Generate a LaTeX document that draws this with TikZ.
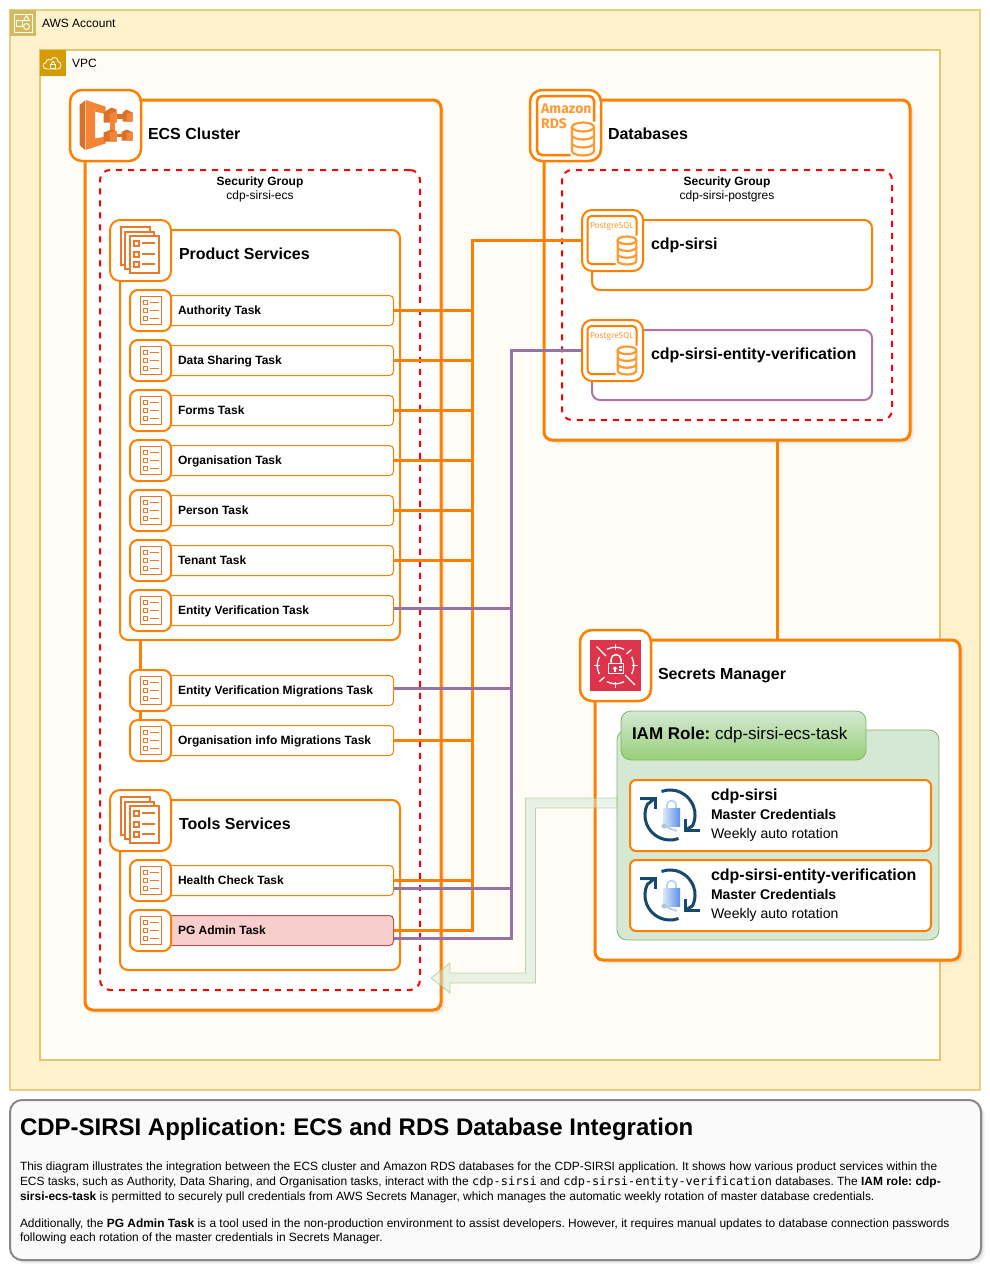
\documentclass[tikz,border=0pt]{standalone}
\usepackage{fontspec}
\setmainfont{Liberation Sans}
\newfontfamily\monof{DejaVu Sans Mono}
\newfontfamily\iconf{Fira Sans}
\usetikzlibrary{shadows}
\definecolor{orng}{HTML}{FF8000}
\definecolor{iconorg}{HTML}{E8782A}
\definecolor{icondark}{HTML}{DB7029}
\definecolor{iconlight}{HTML}{F58536}
\definecolor{dborg}{HTML}{FF9A33}
\definecolor{purp}{HTML}{9673A6}
\definecolor{rotblue}{HTML}{17496E}
\definecolor{smred}{HTML}{DD344C}
\definecolor{accgold}{HTML}{D4B95F}
\definecolor{vpcgold}{HTML}{D79B00}
\definecolor{accline}{HTML}{E8D080}
\definecolor{accfill}{HTML}{FFF2CC}
\definecolor{vpcline}{HTML}{E2C76E}
\definecolor{vpcfill}{HTML}{FFFCF5}
\definecolor{grnline}{HTML}{82B366}
\definecolor{grnfill}{HTML}{D5E8D4}
\definecolor{grnbot}{HTML}{97D077}
\definecolor{pgfillc}{HTML}{F8CECC}
\definecolor{pgline}{HTML}{B85450}
\definecolor{entline}{HTML}{B5739D}
\definecolor{panelline}{HTML}{888888}
\definecolor{panelfill}{HTML}{FAFAFA}
\definecolor{lockpale}{HTML}{DCE9FB}
\definecolor{locklight}{HTML}{B5D3F7}
\definecolor{lockdark}{HTML}{5B8FE6}
\definecolor{keygrey}{HTML}{A9BFD8}
\newcommand{\fsz}[1]{\fontsize{#1}{#1}\selectfont\frenchspacing}
\newcommand{\boxn}[6]{\node[#1,anchor=north west,inner sep=0pt,outer sep=0pt,minimum width={((#5)-(#3))*1pt},minimum height={((#6)-(#4))*1pt}] (#2) at ({#3},{#4}) {};}
\newcommand{\lbl}[5]{\node[anchor=base west,inner sep=0pt,outer sep=0pt,font=\fsz{#4}] (#1) at ({#2},{#3}) {#5};}
\newcommand{\clbl}[5]{\node[anchor=base,inner sep=0pt,outer sep=0pt,font=\fsz{#4}] (#1) at ({#2},{#3}) {#5};}
\newcommand{\taskrow}[4][taskbox]{%
  \boxn{#1}{t#2}{140}{#3-14.5}{393.5}{#3+15.5}
  \node[iconbox,minimum size=41pt] (i#2) at (150.5,{#3+.5}) {};
  \pic at (i#2.center) {listicon};
  \lbl{l#2}{178}{#3+4}{12}{\bfseries #4}
}
\tikzset{
  softshadow/.style={drop shadow={shadow xshift=1pt,shadow yshift=-1pt,opacity=.18},drop shadow={shadow xshift=2.5pt,shadow yshift=-2.5pt,opacity=.14},drop shadow={shadow xshift=4pt,shadow yshift=-4pt,opacity=.08}},
  groupbox/.style={draw=orng,line width=3pt,fill=white,rounded corners=8pt,softshadow},
  subgroup/.style={draw=orng,line width=2pt,fill=white,rounded corners=8pt},
  iconbox/.style={draw=orng,line width=2pt,fill=white,rounded corners=8pt,inner sep=0pt,outer sep=0pt},
  bigicon/.style={draw=orng,line width=2.5pt,fill=white,rounded corners=12pt,inner sep=0pt,outer sep=0pt},
  sgbox/.style={draw=red,line width=2pt,dash pattern=on 6pt off 6pt,rounded corners=10pt},
  taskbox/.style={draw=orng,line width=1pt,fill=white,rounded corners=4pt},
  pgtaskbox/.style={draw=pgline,line width=1pt,fill=pgfillc,rounded corners=4pt},
  credbox/.style={draw=orng,line width=2pt,fill=white,rounded corners=6pt},
  oconn/.style={draw=orng,line width=3pt},
  pconn/.style={draw=purp,line width=3pt},
  listicon/.pic={
    \draw[iconorg,line width=1pt] (-10.5,-14) rectangle (10.5,14);
    \foreach \yy in {-8,0,8}{
      \draw[iconorg,line width=1pt] (-7.5,\yy-2) rectangle (-3.5,\yy+2);
      \draw[iconorg,line width=1pt] (-1,\yy) -- (8,\yy);
    }
  },
  stackicon/.pic={
    \draw[iconorg,line width=2pt,fill=white] (-19.5,-23.5) rectangle (9.5,14.5);
    \draw[iconorg,line width=2pt,fill=white] (-15.5,-18.5) rectangle (13.5,18.5);
    \draw[iconorg,line width=2pt,fill=white] (-10.5,-14.5) rectangle (18.5,22.5);
    \foreach \yy in {-7.5,3.5,13.5}{
      \draw[iconorg,line width=2pt] (-7,\yy-2.5) rectangle (-2,\yy+2.5);
      \draw[iconorg,line width=2pt] (1,\yy) -- (14,\yy);
    }
  },
  dbcyl/.pic={
    \draw[dborg,line width=2.2pt,fill=white] (-11,-12) -- (-11,12) arc[start angle=180,end angle=360,x radius=11pt,y radius=4.5pt] -- (11,-12);
    \draw[dborg,line width=2.2pt,fill=white] (0,-12) ellipse[x radius=11pt,y radius=4.5pt];
    \draw[dborg,line width=2.2pt] (-11,-4) arc[start angle=180,end angle=360,x radius=11pt,y radius=4.5pt];
    \draw[dborg,line width=2.2pt] (-11,4) arc[start angle=180,end angle=360,x radius=11pt,y radius=4.5pt];
  },
  rdsicon/.pic={
    \draw[orng,line width=2.5pt,rounded corners=5pt] (28.5,-4) -- (28.5,-29.5) -- (-28.5,-29.5) -- (-28.5,29.5) -- (5,29.5);
    \pic at (17.5,13.5) {dbcyl};
    \node[anchor=base west,inner sep=0pt,font=\iconf\bfseries\fsz{14},text=dborg] (a) at (-24.5,-12) {Amazon};
    \node[anchor=base west,inner sep=0pt,font=\iconf\bfseries\fsz{14},text=dborg] (b) at (-24.5,3) {RDS};
  },
  pgicon/.pic={
    \draw[orng,line width=2pt,rounded corners=4pt] (24,-5) -- (24,-24.5) -- (-25,-24.5) -- (-25,23.5) -- (3,23.5);
    \pic[scale=.85] at (14.5,10) {dbcyl};
    \node[inner sep=0pt,font=\iconf\fsz{8.5},text=dborg] (a) at (-.8,-14.5) {PostgreSQL};
  },
  smicon/.pic={
    \fill[smred] (-25.5,-25.5) rectangle (25.5,25.5);
    \begin{scope}[white,line width=1.3pt]
      \foreach \aa in {0,90,180,270}{
        \draw ({18.3*cos(\aa-28)},{-18.3*sin(\aa-28)}) arc[start angle=\aa-28,end angle=\aa+28,radius=18.3pt];
      }
      \draw (-19,-19) -- (-9.5,-9.5);
      \draw (16,-16) -- (11,-11.5);
      \draw (-16,16) -- (-11,11.5);
      \draw (9.5,9.5) -- (19.5,19.5);
      \draw (0,-22) -- (0,-16);
      \draw (0,16) -- (0,22);
      \draw (-22,0) -- (-16,0);
      \draw (16,0) -- (22,0);
      \draw[line width=1.5pt] (-7,-2) rectangle (8,8);
      \draw[line width=1.5pt] (-4.5,-2) -- (-4.5,-6) arc[start angle=180,end angle=0,radius=5pt] -- (5.5,-2);
      \draw (-.5,3) circle[radius=1.3pt];
      \draw (-.5,4) -- (-.5,6.5);
      \draw (3.5,1.5) -- (6,1.5);
      \draw (3.5,4.5) -- (6,4.5);
    \end{scope}
  },
  roticon/.pic={
    \path[left color=lockpale,middle color=locklight,right color=lockdark] (-7,-7) rectangle (10,11.5);
    \draw[locklight,line width=1.7pt] (-3,-7) -- (-3,-10) arc[start angle=180,end angle=0,radius=4.5pt] -- (6,-7);
    \draw[keygrey,line width=1.5pt] (-6,11) circle[radius=1.8pt];
    \draw[keygrey,line width=2pt,dash pattern=on 1.5pt off .8pt] (-4,12) -- (7,16);
    \draw[rotblue,line width=3pt] (-8.5,-23.5) arc[start angle=110,end angle=-25,radius=25pt] -- (15,15.7);
    \draw[rotblue,line width=3pt] (15,4) -- (15,15.7) -- (30,15.7);
    \draw[rotblue,line width=3pt] (8.5,23.5) arc[start angle=290,end angle=155,radius=25pt] -- (-15,-16.7);
    \draw[rotblue,line width=3pt] (-30,-16.7) -- (-15,-16.7) -- (-15,-6);
  },
  ecsicon/.pic={
    \fill[icondark] (-26,-20.5) -- (-20.5,-25) -- (-20.5,24.5) -- (-26,19.5) -- cycle;
    \fill[iconlight] (-20,-25.5) -- (0,-19) -- (0,-13) -- (-2,-12) -- (-10.5,-14) -- (-10.5,13) -- (-2,11.5) -- (0,11) -- (0,18) -- (-20,24.5) -- cycle;
    % upper block
    \fill[icondark] (-2,-13) -- (6,-18) -- (11,-16) -- (11,-3) -- (-2,-3) -- cycle;
    \fill[iconlight] (4,-12) -- (11,-14) -- (11,-3) -- (4,-3) -- cycle;
    \fill[icondark] (17,-13) -- (21,-16) -- (27,-13) -- (27,-4) -- (17,-4) -- cycle;
    \fill[iconlight] (21,-12) -- (27,-13) -- (27,-4) -- (21,-4) -- cycle;
    \fill[icondark] (11,-11.5) rectangle (17,-7);
    % vertical link
    \fill[iconlight] (4,-3) rectangle (9.5,5);
    % lower block
    \fill[icondark] (-2,7) -- (6,4) -- (11,5.5) -- (11,16) -- (-2,16) -- cycle;
    \fill[iconlight] (4,7) -- (11,5.5) -- (11,16) -- (4,16) -- cycle;
    \fill[icondark] (16,6.5) -- (21,4) -- (27,6.5) -- (27,15) -- (16,15) -- cycle;
    \fill[iconlight] (21,7.5) -- (27,6.5) -- (27,15) -- (21,15) -- cycle;
    \fill[icondark] (11,8) rectangle (16,11);
  },
  accounticon/.pic={
    \fill[accgold] (-13,-13) rectangle (13,13);
    \draw[white,line width=.9pt] (-9,-9) rectangle (9,9);
    \draw[white,line width=.9pt] (-6.5,-3) rectangle (-.5,3);
    \draw[white,line width=.9pt] (0.5,-2.5) -- (3.5,-7.5) -- (6.5,-2.5) -- cycle;
    \draw[white,line width=.9pt] (3.5,3.5) circle[radius=3pt];
  },
  vpcicon/.pic={
    \fill[vpcgold] (-13,-13) rectangle (13,13);
    \draw[white,line width=.9pt] (-6,6) .. controls (-11,6) and (-11,0) .. (-7,-.5) .. controls (-7,-4) and (-3,-4) .. (-2,-3) .. controls (0,-7) and (5,-6) .. (5,-1.5) .. controls (9,-1) and (9,6) .. (5,6) -- cycle;
    \draw[white,line width=.8pt] (-2.5,1.5) rectangle (2.5,5);
    \draw[white,line width=.8pt] (-1.5,1.5) -- (-1.5,0) arc[start angle=180,end angle=0,radius=1.5pt] -- (1.5,1.5);
  }
}
\begin{document}
\begin{tikzpicture}[x=1pt,y=-1pt]
\useasboundingbox (0,0) rectangle (990,1270);
% outer containers
\boxn{draw=accline,line width=2pt,fill=accfill}{account}{10}{10}{980}{1090}
\pic at (23,23) {accounticon};
\lbl{accountl}{42}{27}{12}{AWS Account}
\boxn{draw=vpcline,line width=2pt,fill=vpcfill}{vpc}{40}{50}{940}{1060}
\pic at (53,63) {vpcicon};
\lbl{vpcl}{72}{67}{12}{VPC}
% main groups
\boxn{groupbox}{ecs}{85}{100}{441}{1010}
\boxn{groupbox}{db}{544}{100}{910}{440}
\boxn{groupbox}{sm}{595}{640}{960}{960}
\node[bigicon,minimum size=71pt] (ecsi) at (105.5,125.5) {};
\pic at (ecsi.center) {ecsicon};
\lbl{ecsl}{148}{139}{16}{\bfseries ECS Cluster}
\node[bigicon,minimum size=71pt] (dbi) at (565.5,125.5) {};
\pic (rds) at (dbi.center) {rdsicon};
\lbl{dbl}{608}{139}{16}{\bfseries Databases}
% security groups
\boxn{sgbox}{sgl}{100}{170}{420}{990}
\clbl{sgla}{260}{185}{12}{\bfseries Security Group}
\clbl{sglb}{260}{199}{12}{cdp-sirsi-ecs}
\boxn{sgbox}{sgr}{562}{170}{892}{420}
\clbl{sgra}{727}{185}{12}{\bfseries Security Group}
\clbl{sgrb}{727}{199}{12}{cdp-sirsi-postgres}
% service groups
\boxn{subgroup}{ps}{120}{230}{400}{640}
\node[iconbox,minimum size=61pt,rounded corners=10pt] (psi) at (140.5,250.5) {};
\pic at (psi.center) {stackicon};
\lbl{psl}{179}{259}{16}{\bfseries Product Services}
\boxn{subgroup}{ts}{120}{800}{400}{970}
\node[iconbox,minimum size=61pt,rounded corners=10pt] (tsi) at (140.5,820.5) {};
\pic at (tsi.center) {stackicon};
\lbl{tsl}{179}{829}{16}{\bfseries Tools Services}
% databases
\boxn{subgroup}{csa}{592}{220}{872}{290}
\node[iconbox,minimum size=61pt,rounded corners=10pt] (csai) at (612.5,240.5) {};
\pic (pa) at (csai.center) {pgicon};
\lbl{csal}{651}{249}{16}{\bfseries cdp-sirsi}
\boxn{subgroup,draw=entline}{csb}{592}{330}{872}{400}
\node[iconbox,minimum size=61pt,rounded corners=10pt] (csbi) at (612.5,350.5) {};
\pic (pb) at (csbi.center) {pgicon};
\lbl{csbl}{651}{359}{16}{\bfseries cdp-sirsi-entity-verification}
% tasks
\taskrow{1}{310}{Authority Task}
\taskrow{2}{360}{Data Sharing Task}
\taskrow{3}{410}{Forms Task}
\taskrow{4}{460}{Organisation Task}
\taskrow{5}{510}{Person Task}
\taskrow{6}{560}{Tenant Task}
\taskrow{7}{610}{Entity Verification Task}
\taskrow{8}{690}{Entity Verification Migrations Task}
\taskrow{9}{740}{Organisation info Migrations Task}
\taskrow{10}{880}{Health Check Task}
\taskrow[pgtaskbox]{11}{930}{PG Admin Task}
\draw[oconn] (psi.south |- ps.south) -- (psi.south |- i8.north);
\draw[oconn] (psi.south |- i8.south) -- (psi.south |- i9.north);
% secrets manager
\node[bigicon,minimum size=71pt] (smi) at (615.5,665.5) {};
\pic at (smi.center) {smicon};
\lbl{sml}{658}{679}{16}{\bfseries Secrets Manager}
\boxn{draw=grnline,line width=.8pt,fill=grnfill,rounded corners=10pt}{iam}{617}{730}{939}{940}
\boxn{draw=grnline,line width=.8pt,top color=grnfill,bottom color=grnbot,rounded corners=10pt}{iamt}{621}{711}{866}{760}
\lbl{iaml}{632}{739}{17}{\textbf{IAM Role:} cdp-sirsi-ecs-task}
\boxn{credbox}{cr1}{630}{780}{931}{851}
\pic at (670,815) {roticon};
\lbl{cr1a}{711}{800}{16}{\bfseries cdp-sirsi}
\lbl{cr1b}{711}{819}{14}{\bfseries Master Credentials}
\lbl{cr1c}{711}{838}{14}{Weekly auto rotation}
\boxn{credbox}{cr2}{630}{860}{931}{931}
\pic at (670,895) {roticon};
\lbl{cr2a}{711}{880}{16}{\bfseries cdp-sirsi-entity-verification}
\lbl{cr2b}{711}{899}{14}{\bfseries Master Credentials}
\lbl{cr2c}{711}{918}{14}{Weekly auto rotation}
% connectors
\coordinate (otrunk) at (472.5,300);
\coordinate (ptrunk) at (511.5,300);
\draw[oconn] (csai.west) -- (csai.west -| otrunk) -- (t11.east -| otrunk) -- (t11.east);
\foreach \n in {1,2,3,4,5,6,9,10}{
  \draw[oconn] (t\n.east) -- (t\n.east -| otrunk);
}
\draw[pconn] (csbi.west) -- (csbi.west -| ptrunk) -- ([yshift=-8pt]t11.east -| ptrunk) -- ([yshift=-8pt]t11.east);
\draw[pconn] ([yshift=2pt]t7.east) -- ([yshift=2pt]t7.east -| ptrunk);
\draw[pconn] ([yshift=2pt]t8.east) -- ([yshift=2pt]t8.east -| ptrunk);
\draw[pconn] ([yshift=-8pt]t10.east) -- ([yshift=-8pt]t10.east -| ptrunk);
\draw[oconn] ([xshift=50.5pt]db.south) -- ([xshift=50.5pt]db.south |- sm.north);
% wide arrow
\draw[draw=grnline,draw opacity=.5,fill=grnfill,fill opacity=.5,line width=.8pt]
  (iam.west |- 0,798) -- (525.5,798) -- (525.5,973) -- (450,973) -- (450,963) -- (431,978) -- (450,993) -- (450,983) -- (535.5,983) -- (535.5,808) -- (iam.west |- 0,808) -- cycle;
% description panel
\boxn{draw=panelline,line width=2pt,fill=panelfill,rounded corners=12pt,softshadow}{panel}{10}{1100}{981}{1260}
\lbl{ttl}{20}{1135}{24}{\bfseries CDP-SIRSI Application: ECS and RDS Database Integration}
\lbl{d1}{20}{1170}{11.95}{This diagram illustrates the integration between the ECS cluster and Amazon RDS databases for the CDP-SIRSI application. It shows how various product services within the}
\lbl{d2}{20}{1185}{11.95}{ECS tasks, such as Authority, Data Sharing, and Organisation tasks, interact with the {\monof cdp-sirsi} and {\monof cdp-sirsi-entity-verification} databases. The \textbf{IAM role: cdp-}}
\lbl{d3}{20}{1200}{11.95}{\textbf{sirsi-ecs-task} is permitted to securely pull credentials from AWS Secrets Manager, which manages the automatic weekly rotation of master database credentials.}
\lbl{d4}{20}{1227}{11.95}{Additionally, the \textbf{PG Admin Task} is a tool used in the non-production environment to assist developers. However, it requires manual updates to database connection passwords}
\lbl{d5}{20}{1241}{11.95}{following each rotation of the master credentials in Secrets Manager.}
\end{tikzpicture}
\end{document}
